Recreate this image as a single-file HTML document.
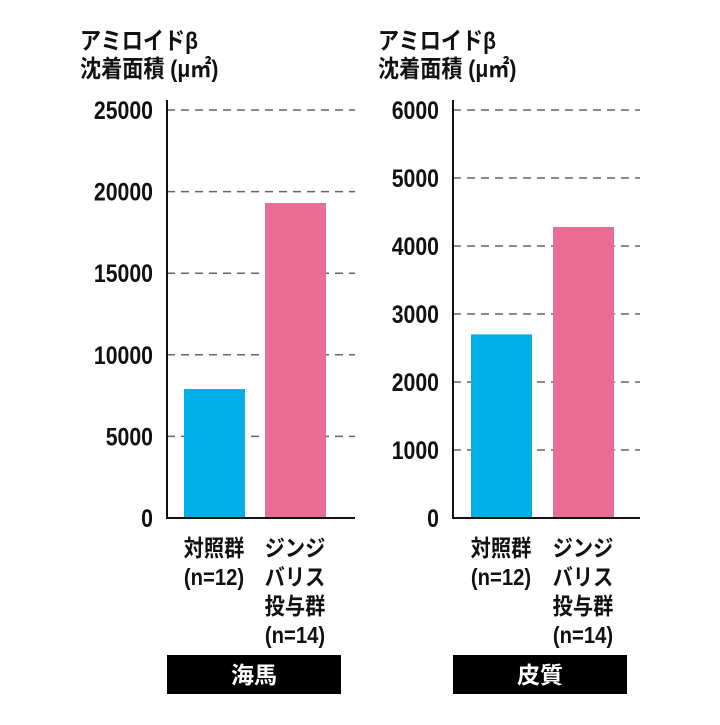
<!DOCTYPE html>
<html><head><meta charset="utf-8"><style>
body{margin:0;background:#fff;width:720px;height:720px;overflow:hidden}
svg text{font-family:"Liberation Sans","Noto Sans CJK JP",sans-serif;font-weight:bold;fill:#111}
</style></head><body>
<svg id="c" width="720" height="720" xmlns="http://www.w3.org/2000/svg"></svg>
<script>
const categories=["対照群\n(n=12)","ジンジ\nバリス\n投与群\n(n=14)"];
const hippoValues=[7900,19300];
const cortexValues=[2700,4280];
const hippoTicks=[0,5000,10000,15000,20000,25000];
const cortexTicks=[0,1000,2000,3000,4000,5000,6000];
const colors=["#00aee8","#e96d93"];
const NS="http://www.w3.org/2000/svg";
const svg=document.getElementById('c');
function mk(t,a,p){const e=document.createElementNS(NS,t);for(const k in a)e.setAttribute(k,a[k]);(p||svg).appendChild(e);return e;}
function panel(name,ax,gridEnd,max,ticks,vals,barX,titleX,region){
  const base=518,top=110;
  const y=v=>base-(v/max)*(base-top);
  const g=mk('g',{});
  
  
  ticks.forEach(t=>{
    if(t>0){const l=mk('line',{x1:ax,x2:gridEnd,y1:y(t),y2:y(t),stroke:'#666','stroke-width':1.5,'stroke-dasharray':'8,6'},g);
    
    }
    const tx=mk('text',{x:ax-14,y:y(t)+9,'text-anchor':'end','font-size':25,transform:`translate(${ax-14},0) scale(0.85,1) translate(${-(ax-14)},0)`},g);
    tx.textContent=t;
    
    
  });
  vals.forEach((v,i)=>{
    const r=mk('rect',{x:barX[i],y:y(v),width:61,height:base-y(v),fill:colors[i]},g);
    
    
    const lines=categories[i].split('\n');
    lines.forEach((s,j)=>{
      const cx=barX[i]+30;
      const t=mk('text',{x:cx,y:556+j*29,'text-anchor':'middle','font-size':23,transform:`translate(${cx},0) scale(0.88,1) translate(${-cx},0)`},g);
      t.textContent=s;
      
      
    });
  });
  const a=mk('path',{d:`M${ax} 100 V${base} H${gridEnd}`,fill:'none',stroke:'#111','stroke-width':2},g);
  
  
  ['アミロイドβ','沈着面積 (μ㎡)'].forEach((s,j)=>{
    const t=mk('text',{x:titleX,y:49+j*28,'font-size':24,transform:`translate(${titleX},0) scale(0.88,1) translate(${-titleX},0)`},g);
    t.textContent=s;
    
    
  });
  const b=mk('rect',{x:ax,y:655,width:174,height:39,fill:'#000'},g);
  
  
  const rt=mk('text',{x:ax+87,y:683,'text-anchor':'middle','font-size':23,style:'fill:#fff'},g);
  rt.textContent=region;
  
  
}
panel('hippocampus',167,355,25000,hippoTicks,hippoValues,[184,265],80,'海馬');
panel('cortex',453,640,6000,cortexTicks,cortexValues,[471,553],378,'皮質');
</script>
</body></html>
